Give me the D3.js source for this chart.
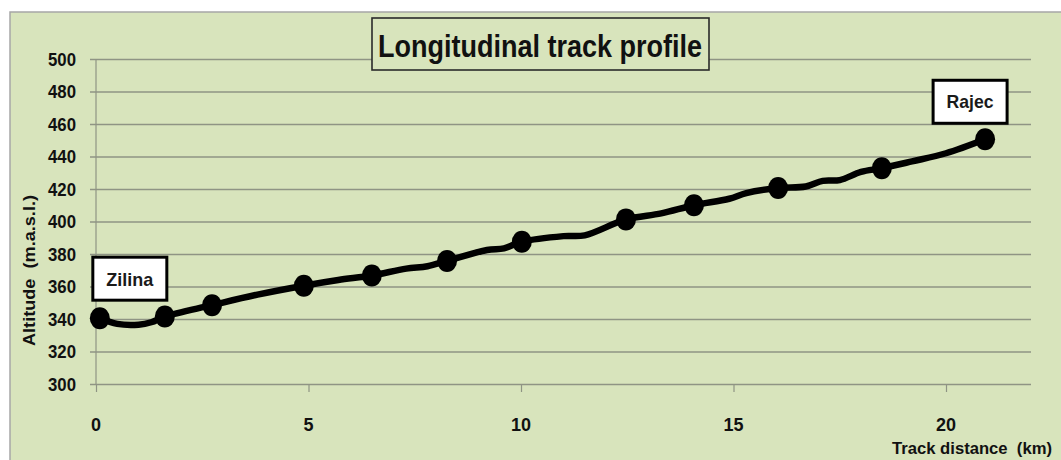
<!DOCTYPE html>
<html><head><meta charset="utf-8">
<script src="https://cdn.jsdelivr.net/npm/d3@7"></script>
<style>html,body{margin:0;padding:0;background:#fff;}svg{display:block;}</style>
</head><body>
<svg id="c" width="1061" height="460"></svg>
<script>
// Data
const profileKm  = [0.09,0.5,1.0,1.3,1.62,2.73,3.8,4.89,5.7,6.49,7.3,7.8,8.26,9.2,9.6,10.02,11.0,11.5,12.47,13.3,14.07,14.9,15.3,16.05,16.7,17.1,17.5,18.0,18.49,19.2,20.0,20.92];
const profileAlt = [340.5,337,336.5,338,341.5,348.5,355,360.5,364,366.8,371,372.5,375.7,382.5,383.5,387.5,391,391.5,401.3,405,410,414,417.5,420.6,421.5,425,425.5,430.5,432.8,437,442,450.6];
const stationKm  = [0.09,1.62,2.73,4.89,6.49,8.26,10.02,12.47,14.07,16.05,18.49,20.92];
const stationAlt = [340.5,341.5,348.5,360.5,366.8,375.7,387.5,401.3,410,420.6,432.8,450.6];
const yTicks = [300,320,340,360,380,400,420,440,460,480,500];
const xTicks = [0,5,10,15,20];
const labels = [{name:"Zilina", km:0.09, alt:340.5}, {name:"Rajec", km:20.92, alt:450.6}];
const title = "Longitudinal track profile";
const xTitle = "Track distance  (km)";
const yTitle = "Altitude  (m.a.s.l.)";

const svg = d3.select("#c");
const FONT = "'Liberation Sans Narrow','Arial Narrow','Liberation Sans',sans-serif";
const bg = "#d8e4bc";

// panel
svg.append("rect").attr("x",10).attr("y",12).attr("width",1060).attr("height",460)
  .attr("fill",bg).attr("stroke","#a6a6a6").attr("stroke-width",1.5);

const x = d3.scaleLinear().domain([0,22]).range([96,1031]);
const y = d3.scaleLinear().domain([300,500]).range([384,59]);

// gridlines
const gy = svg.append("g").attr("transform","translate(96,0)")
  .call(d3.axisLeft(y).tickValues(yTicks).tickSize(-(1031-96)).tickSizeOuter(0).tickFormat(""));
gy.select(".domain").remove();
gy.selectAll(".tick line").attr("stroke","#8f9484").attr("stroke-width",1.6).attr("x1",-6);

// y tick labels
svg.append("g").selectAll("text").data(yTicks).join("text")
  .attr("x",76).attr("y",d=>y(d)).attr("dy","0.37em").attr("text-anchor","end")
  .attr("textLength",28).attr("lengthAdjust","spacingAndGlyphs")
  .attr("font-family",FONT).attr("font-weight","bold").attr("font-size",18).attr("fill","#111")
  .text(d=>d);

// vertical axis line
svg.append("line").attr("x1",96).attr("x2",96).attr("y1",59).attr("y2",384)
  .attr("stroke","#8f9484").attr("stroke-width",1.2);

// x axis ticks
const gx = svg.append("g").attr("transform","translate(0,384)")
  .call(d3.axisBottom(x).tickValues(xTicks).tickSize(8).tickSizeOuter(0).tickFormat(""));
gx.select(".domain").remove();
gx.selectAll(".tick line").attr("stroke","#8f9484").attr("stroke-width",1.2);
svg.append("g").selectAll("text").data(xTicks).join("text")
  .attr("x",d=>x(d)).attr("y",431).attr("text-anchor","middle")
  .attr("font-family",FONT).attr("font-weight","bold").attr("font-size",18).attr("fill","#111")
  .text(d=>d);

// axis titles
svg.append("text").attr("x",892).attr("y",454).attr("textLength",160).attr("lengthAdjust","spacingAndGlyphs")
  .attr("font-family",FONT).attr("font-weight","bold").attr("font-size",17).attr("fill","#111")
  .style("white-space","pre").text(xTitle);
svg.append("text").attr("transform","translate(35,346) rotate(-90)")
  .attr("textLength",151).attr("lengthAdjust","spacingAndGlyphs")
  .attr("font-family",FONT).attr("font-weight","bold").attr("font-size",17).attr("fill","#111")
  .style("white-space","pre").text(yTitle);

// title box
svg.append("rect").attr("x",372).attr("y",18).attr("width",337).attr("height",52)
  .attr("fill",bg).attr("stroke","#2a2a2a").attr("stroke-width",1.6);
svg.append("text").attr("x",378).attr("y",57).attr("textLength",324).attr("lengthAdjust","spacingAndGlyphs")
  .attr("font-family",FONT).attr("font-weight","bold").attr("font-size",31).attr("fill","#111")
  .text(title);

// profile line
const pts = profileKm.map((k,i)=>[k,profileAlt[i]]);
const line = d3.line().x(d=>x(d[0])).y(d=>y(d[1])).curve(d3.curveCatmullRom);
svg.append("path").datum(pts).attr("d",line).attr("fill","none")
  .attr("stroke","#000").attr("stroke-width",6.5).attr("stroke-linejoin","round");

// station markers
svg.append("g").selectAll("ellipse").data(stationKm.map((k,i)=>[k,stationAlt[i]])).join("ellipse")
  .attr("cx",d=>x(d[0])).attr("cy",d=>y(d[1])).attr("rx",10).attr("ry",11).attr("fill","#000");

// labels
const lbl = svg.append("g").selectAll("g").data(labels).join("g");
lbl.append("rect")
  .attr("x",d=>d.name==="Zilina"? x(d.km)-7 : x(d.km)-52)
  .attr("y",d=>d.name==="Zilina"? y(d.alt)-61 : y(d.alt)-59)
  .attr("width",74).attr("height",43).attr("fill","#fff").attr("stroke","#000").attr("stroke-width",3);
lbl.append("text")
  .attr("x",d=>d.name==="Zilina"? x(d.km)+30 : x(d.km)-15)
  .attr("y",d=>d.name==="Zilina"? y(d.alt)-32 : y(d.alt)-31)
  .attr("text-anchor","middle").attr("textLength",47).attr("lengthAdjust","spacingAndGlyphs")
  .attr("font-family",FONT).attr("font-weight","bold").attr("font-size",19)
  .attr("fill","#1a1a1a").text(d=>d.name);
</script>
</body></html>
